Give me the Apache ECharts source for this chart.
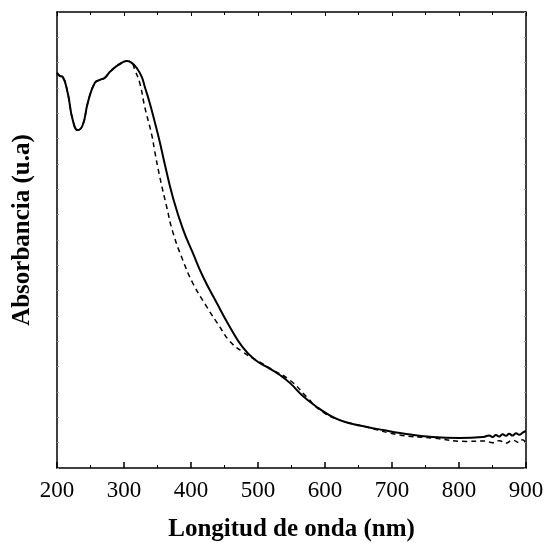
<!DOCTYPE html>
<html>
<head>
<meta charset="utf-8">
<script src="https://cdn.jsdelivr.net/npm/echarts@6/dist/echarts.min.js"></script>
<style>
  html, body { margin: 0; padding: 0; background: #fff; }
  #chart { width: 544px; height: 543px; }
</style>
</head>
<body>
<div id="chart"></div>
<script>
// longitud de onda (nm) y absorbancia, curva continua
const solidX = [200, 204, 208.5, 216, 223.5, 231, 238.4, 245.9, 256.3, 263.8, 271.2, 278.7, 289.2, 296.6, 304.1, 311.5, 319, 326.5, 331, 338.4, 345.9, 353.4, 360.8, 372.8, 387.7, 402.7, 417.6, 438.5, 458, 477.3, 495, 513.2, 532.6, 547.5, 567, 587.8, 604, 622.2, 641.6, 662.5, 686.4, 711.8, 761, 800, 835.8, 845, 850, 855, 860, 865, 870, 875, 880, 885, 890, 895, 900];
const solidY = [1.560, 1.548, 1.544, 1.480, 1.374, 1.334, 1.354, 1.441, 1.520, 1.532, 1.540, 1.563, 1.587, 1.599, 1.607, 1.599, 1.579, 1.544, 1.505, 1.441, 1.366, 1.287, 1.200, 1.070, 0.945, 0.849, 0.757, 0.651, 0.557, 0.476, 0.428, 0.399, 0.367, 0.336, 0.284, 0.241, 0.213, 0.189, 0.174, 0.162, 0.150, 0.138, 0.122, 0.118, 0.122, 0.128, 0.122, 0.130, 0.124, 0.133, 0.127, 0.135, 0.128, 0.137, 0.131, 0.140, 0.146];

// curva discontinua
const dashX = [200, 204, 208.5, 216, 223.5, 231, 238.4, 245.9, 256.3, 263.8, 271.2, 278.7, 289.2, 296.6, 304.1, 311.5, 316.2, 323.5, 331, 341.4, 345.9, 353.4, 363.8, 372.8, 387.7, 402.7, 423.6, 443, 458, 477.3, 502.7, 522.1, 547.5, 572.9, 592.3, 622.2, 662.5, 711.8, 761, 811.8, 840, 850, 860, 870, 880, 890, 895, 900];
const dashY = [1.560, 1.548, 1.544, 1.480, 1.374, 1.334, 1.354, 1.441, 1.520, 1.532, 1.540, 1.563, 1.587, 1.599, 1.607, 1.599, 1.571, 1.520, 1.425, 1.315, 1.250, 1.149, 1.030, 0.932, 0.821, 0.730, 0.636, 0.557, 0.500, 0.458, 0.418, 0.387, 0.347, 0.280, 0.229, 0.189, 0.162, 0.130, 0.118, 0.105, 0.107, 0.100, 0.108, 0.098, 0.110, 0.100, 0.112, 0.096];

const xTicks = [200, 300, 400, 500, 600, 700, 800, 900];

const chart = echarts.init(document.getElementById('chart'));

const font = 'Liberation Serif';
const lineBlack = { color: '#000', width: 1.5 };

const option = {
  animation: false,
  grid: { left: 57, right: 18, top: 12, bottom: 75, outerBoundsMode: 'none', containLabel: false },
  xAxis: [{
    type: 'value',
    min: xTicks[0],
    max: xTicks[xTicks.length - 1],
    interval: 100,
    name: 'Longitud de onda (nm)',
    nameLocation: 'middle',
    nameGap: 49,
    nameTextStyle: { fontFamily: font, fontSize: 25, fontWeight: 'bold', color: '#000' },
    axisLine: { onZero: false, lineStyle: lineBlack },
    axisTick: { inside: true, length: 6, lineStyle: lineBlack },
    minorTick: { show: true, splitNumber: 2, length: 3, lineStyle: { color: '#000', width: 1 } },
    axisLabel: { fontFamily: font, fontSize: 23, color: '#000', margin: 11 },
    splitLine: { show: false }
  }, {
    type: 'value',
    position: 'top',
    min: xTicks[0],
    max: xTicks[xTicks.length - 1],
    interval: 100,
    axisLine: { onZero: false, lineStyle: lineBlack },
    axisTick: { inside: true, length: 4, lineStyle: { color: '#000', width: 1 } },
    minorTick: { show: true, splitNumber: 2, length: 3, lineStyle: { color: '#000', width: 1 } },
    axisLabel: { show: false },
    splitLine: { show: false }
  }],
  yAxis: [{
    type: 'value',
    min: 0,
    max: 1.8,
    interval: 0.1,
    name: 'Absorbancia (u.a)',
    nameLocation: 'middle',
    nameGap: 22,
    nameTextStyle: { fontFamily: font, fontSize: 25, fontWeight: 'bold', color: '#000', padding: [0, 0, 0, 20] },
    axisLine: { show: true, onZero: false, lineStyle: lineBlack },
    axisTick: { show: true, inside: true, length: 2, lineStyle: { color: '#999', width: 1 } },
    axisLabel: { show: false },
    splitLine: { show: false }
  }, {
    type: 'value',
    position: 'right',
    min: 0,
    max: 1.8,
    interval: 0.1,
    axisLine: { show: true, onZero: false, lineStyle: lineBlack },
    axisTick: { show: true, inside: true, length: 2, lineStyle: { color: '#999', width: 1 } },
    axisLabel: { show: false },
    splitLine: { show: false }
  }],
  series: [{
    type: 'line',
    data: solidX.map((x, i) => [x, solidY[i]]),
    symbol: 'none',
    smooth: 0.5,
    lineStyle: { color: '#000', width: 2 }
  }, {
    type: 'line',
    data: dashX.map((x, i) => [x, dashY[i]]),
    symbol: 'none',
    smooth: 0.5,
    lineStyle: { color: '#000', width: 1.5, type: [5, 4] }
  }]
};

chart.setOption(option);
</script>
</body>
</html>
